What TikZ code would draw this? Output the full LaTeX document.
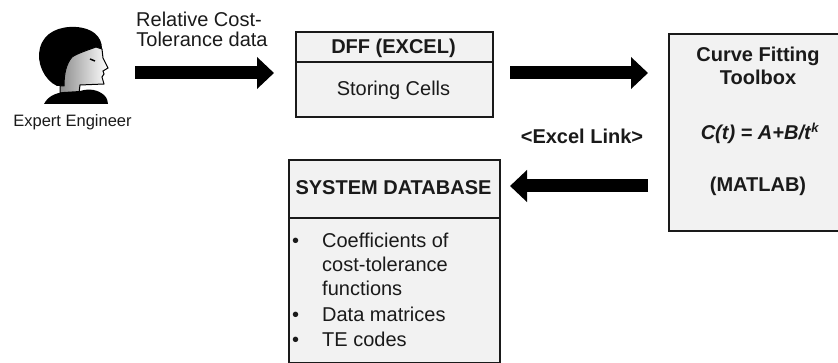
\documentclass[tikz,border=0pt]{standalone}
\usepackage{fontspec}
\setmainfont{Liberation Sans}
\usetikzlibrary{arrows.meta}
\definecolor{boxfill}{HTML}{F2F2F2}
\definecolor{ink}{HTML}{1A1A1A}
\begin{document}
\begin{tikzpicture}[x=1pt,y=-1pt,
  box/.style={draw=ink, line width=1.6pt, fill=boxfill, inner sep=0pt, anchor=north west},
  divider/.style={draw=ink, line width=1.6pt},
  txt/.style={font=\fontsize{20}{24}\selectfont, text=ink, inner sep=0pt, anchor=base},
  btxt/.style={txt, font=\fontsize{20}{24}\selectfont\bfseries},
  ltxt/.style={txt, anchor=base west},
  blockarrow/.style={draw=black, line width=13pt, -{Triangle[width=31pt,length=17pt]}}]
\useasboundingbox (0,0) rectangle (838,363);

% ---- person ----
\fill[black] (57,86) .. controls (44,80) and (36,62) .. (40,48)
  .. controls (44,32) and (60,26) .. (76,27)
  .. controls (92,28) and (102,36) .. (102,49) -- (96,47)
  .. controls (88,50) and (78,53) .. (72,57)
  .. controls (66,64) and (64,74) .. (64,86) -- cycle;
\shade[left color=black!45, right color=white, draw=black, line width=1pt]
  (72,57) .. controls (78,53) and (88,50) .. (96,47) -- (102,49) -- (103,58)
  -- (108,68) -- (103,71) -- (104,74) -- (102,77) -- (104,84) -- (80,85)
  -- (79,93) -- (60,93) -- (60,86) -- (64,86)
  .. controls (64,74) and (66,64) .. (72,57) -- cycle;
\draw[black, line width=1.4pt] (90,59) -- (95,61);
\fill[black] (44,104) .. controls (48,96) and (56,93) .. (64,92) -- (80,91)
  .. controls (90,88) and (98,90) .. (104,95)
  .. controls (107,98) and (108,101) .. (108,104) -- cycle;
\node[txt, font=\fontsize{16.5}{20}\selectfont] (expert) at (72.5,127) {Expert Engineer};

% ---- label over first arrow ----
\node[txt] (rel1) at (199,26.5) {Relative Cost-};
\node[txt] (rel2) at (202,46.7) {Tolerance data};

% ---- DFF box ----
\node[box, minimum width=197pt, minimum height=85pt] (dff) at (295,31) {};
\draw[divider] (dff.west |- 0,62) -- (dff.east |- 0,62);
\node[btxt] (dfftitle) at (393.5,53.3) {DFF (EXCEL)};
\node[txt] (dffcells) at (393.5,96) {Storing Cells};

% ---- Curve fitting box ----
\node[box, minimum width=185pt, minimum height=197pt] (cft) at (668,33) {};
\node[btxt] (cft1) at (758,61.7) {Curve Fitting};
\node[btxt] (cft2) at (758,85) {Toolbox};
\node[btxt] (eq) at (760,140) {\textit{C(t) = A+B/t}\raisebox{7pt}{\fontsize{13}{15}\selectfont\textit{k}}};
\node[btxt] (matlab) at (758,191.7) {(MATLAB)};

\node[btxt] (link) at (582,143.3) {<Excel Link>};

% ---- System database box ----
\node[box, minimum width=211pt, minimum height=203pt] (sys) at (288,159) {};
\draw[divider] (sys.west |- 0,218) -- (sys.east |- 0,218);
\node[btxt] (systitle) at (393.5,194.3) {SYSTEM DATABASE};
\node[ltxt] (l1) at (292,247.7) {\makebox[30pt][l]{\textbullet}Coefficients of};
\node[ltxt] (l2) at (322,271.7) {cost-tolerance};
\node[ltxt] (l3) at (322,295.5) {functions};
\node[ltxt] (l4) at (292,321.5) {\makebox[30pt][l]{\textbullet}Data matrices};
\node[ltxt] (l5) at (292,346.5) {\makebox[30pt][l]{\textbullet}TE codes};

% ---- arrows ----
\coordinate (a1s) at (135,73);
\coordinate (a1e) at (274,73);
\coordinate (a2s) at (510,73);
\coordinate (a2e) at (648,73);
\coordinate (a3s) at (648,186);
\coordinate (a3e) at (510,186);
\draw[blockarrow] (a1s) -- (a1e);
\draw[blockarrow] (a2s) -- (a2e);
\draw[blockarrow] (a3s) -- (a3e);
\end{tikzpicture}
\end{document}
